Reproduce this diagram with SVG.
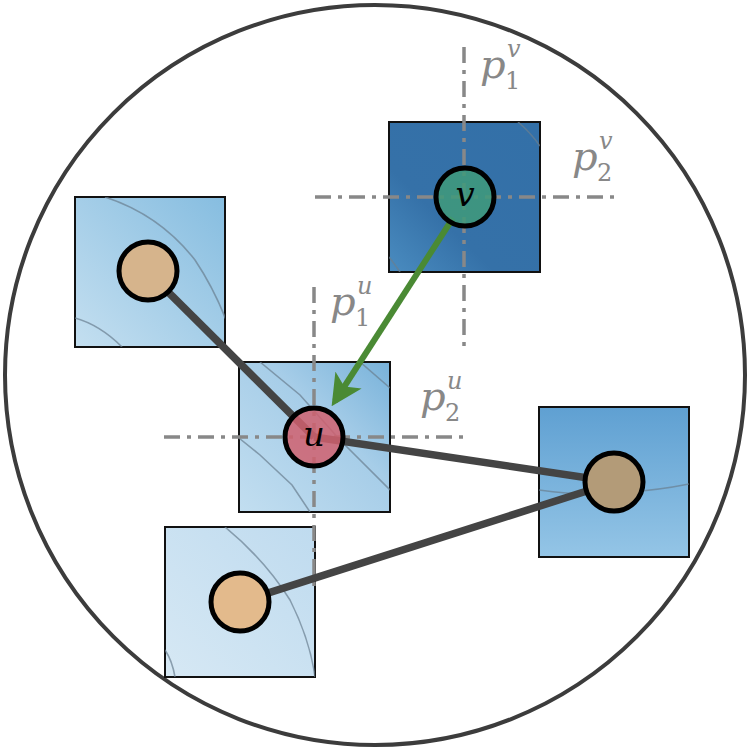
<svg xmlns="http://www.w3.org/2000/svg" width="750" height="750" viewBox="0 0 750 750">
<style>
.box{stroke:#111;stroke-width:2}
.contour{fill:none;stroke:#6a7f90;stroke-width:1.6;opacity:0.7}
.guide{fill:none;stroke:#888;stroke-width:3.5;stroke-dasharray:16 7 4 7}
.edge{stroke:#444;stroke-width:7.5;fill:none}
.node{stroke:#000;stroke-width:5}
.lbl{font-family:"DejaVu Serif","Liberation Serif",serif;font-style:italic;fill:#888;font-size:40px}
.sub{font-family:"DejaVu Serif","Liberation Serif",serif;fill:#888;font-size:24px;font-style:normal}
.sup{font-family:"DejaVu Serif","Liberation Serif",serif;font-style:italic;fill:#888;font-size:24px}
.nl{font-family:"DejaVu Serif","Liberation Serif",serif;font-style:italic;fill:#000;font-size:34px;text-anchor:middle}
</style>
<defs>
<linearGradient id="gV" x1="0" y1="1" x2="1" y2="0"><stop offset="0" stop-color="#4a8cc0"/><stop offset="0.35" stop-color="#3571a8"/><stop offset="1" stop-color="#3370a8"/></linearGradient>
<linearGradient id="gTL" x1="0" y1="1" x2="1" y2="0"><stop offset="0" stop-color="#c4dff0"/><stop offset="1" stop-color="#86bde0"/></linearGradient>
<linearGradient id="gU" x1="0" y1="1" x2="1" y2="0"><stop offset="0" stop-color="#c2def0"/><stop offset="0.6" stop-color="#a6cde8"/><stop offset="1" stop-color="#78b2da"/></linearGradient>
<linearGradient id="gR" x1="0" y1="0" x2="0" y2="1"><stop offset="0" stop-color="#5fa0d2"/><stop offset="1" stop-color="#94c5e6"/></linearGradient>
<linearGradient id="gB" x1="0" y1="1" x2="1" y2="0"><stop offset="0" stop-color="#d6e8f4"/><stop offset="1" stop-color="#bfdbef"/></linearGradient>
<clipPath id="cV"><rect x="389" y="122" width="151" height="150"/></clipPath>
<clipPath id="cTL"><rect x="75" y="197" width="150" height="150"/></clipPath>
<clipPath id="cU"><rect x="239" y="362" width="151" height="150"/></clipPath>
<clipPath id="cR"><rect x="539" y="407" width="150" height="150"/></clipPath>
<clipPath id="cB"><rect x="165" y="527" width="150" height="150"/></clipPath>
<marker id="arr" viewBox="0 0 10 10" refX="8" refY="5" markerWidth="5.2" markerHeight="5.2" orient="auto" markerUnits="strokeWidth"><path d="M0,0 L10,5 L0,10 L2.5,5 Z" fill="#4a8a34"/></marker>
</defs>

<circle cx="375" cy="375" r="370" fill="#fff" stroke="#3c3c3c" stroke-width="4"/>

<g id="box-v">
<rect class="box" x="389" y="122" width="151" height="150" fill="url(#gV)"/>
<g clip-path="url(#cV)"><path class="contour" d="M518,122 Q530,132 540,146"/><path class="contour" d="M389,257 Q396,266 400,272"/></g>
</g>
<g id="box-tl">
<rect class="box" x="75" y="197" width="150" height="150" fill="url(#gTL)"/>
<g clip-path="url(#cTL)"><path class="contour" d="M105,197 Q160,215 195,260 Q215,290 228,325"/><path class="contour" d="M75,318 Q100,325 122,347"/></g>
</g>
<g id="box-u">
<rect class="box" x="239" y="362" width="151" height="150" fill="url(#gU)"/>
<g clip-path="url(#cU)"><path class="contour" d="M260,362 L300,395 L340,440 L390,490"/><path class="contour" d="M360,362 L390,388"/><path class="contour" d="M239,438 L260,455 L292,485 L310,512"/></g>
</g>
<g id="box-r">
<rect class="box" x="539" y="407" width="150" height="150" fill="url(#gR)"/>
<g clip-path="url(#cR)"><path class="contour" d="M539,490 Q580,496 620,493 Q660,490 689,484"/></g>
</g>
<g id="box-b">
<rect class="box" x="165" y="527" width="150" height="150" fill="url(#gB)"/>
<g clip-path="url(#cB)"><path class="contour" d="M225,527 Q265,560 290,600 Q310,640 315,677"/><path class="contour" d="M165,650 Q172,660 175,677"/></g>
</g>

<g id="guides">
<line class="guide" x1="464" y1="47" x2="464" y2="347"/>
<line class="guide" x1="315" y1="197" x2="615" y2="197"/>
<line class="guide" x1="314" y1="287" x2="314" y2="587"/>
<line class="guide" x1="164" y1="437" x2="464" y2="437"/>
</g>

<g id="labels">
<text class="lbl" x="480" y="78">p</text><text class="sup" x="507" y="57">v</text><text class="sub" x="505" y="89">1</text>
<text class="lbl" x="572" y="170">p</text><text class="sup" x="599" y="149">v</text><text class="sub" x="597" y="181">2</text>
<text class="lbl" x="330" y="315">p</text><text class="sup" x="357" y="294">u</text><text class="sub" x="355" y="326">1</text>
<text class="lbl" x="420" y="410">p</text><text class="sup" x="447" y="389">u</text><text class="sub" x="445" y="421">2</text>
</g>

<g id="connectors">
<line class="edge" x1="148" y1="272" x2="314" y2="437"/>
<line class="edge" x1="314" y1="437" x2="615" y2="482"/>
<line class="edge" x1="240" y1="602" x2="615" y2="482"/>
<line x1="453" y1="218" x2="335" y2="401" stroke="#4a8a34" stroke-width="6" marker-end="url(#arr)"/>
</g>

<g id="node-tl"><circle class="node" cx="148" cy="271" r="29" fill="#d6b48c"/></g>
<g id="node-b"><circle class="node" cx="240" cy="602" r="29" fill="#e3ba8c"/></g>
<g id="node-r"><circle class="node" cx="614" cy="482" r="29" fill="#b39b78"/></g>
<g id="node-u"><circle class="node" cx="314" cy="437" r="29" fill="#d0606e" fill-opacity="0.85"/><text class="nl" x="314" y="446">u</text></g>
<g id="node-v"><circle class="node" cx="465" cy="197" r="29" fill="#3f9a7a" fill-opacity="0.85"/><text class="nl" x="465" y="206">v</text></g>
</svg>
